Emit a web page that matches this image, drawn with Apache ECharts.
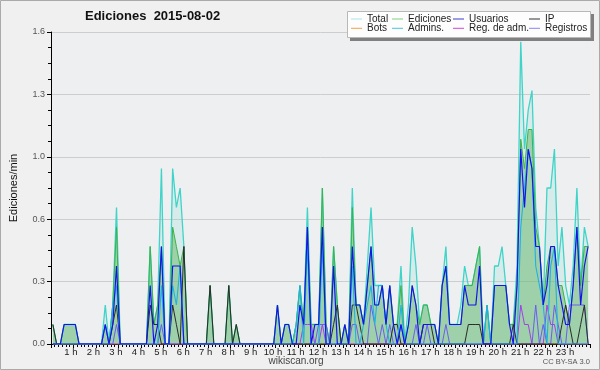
<!DOCTYPE html>
<html><head><meta charset="utf-8">
<script src="https://cdn.jsdelivr.net/npm/echarts@6/dist/echarts.min.js"></script>
<style>html,body{margin:0;padding:0;background:#f0f0f0}#c{width:600px;height:370px}</style>
</head><body><div id="c"></div>
<script>
// 10-minute bins, values in edits/min
const hourLabels = ['1 h','2 h','3 h','4 h','5 h','6 h','7 h','8 h','9 h','10 h','11 h','12 h','13 h','14 h','15 h','16 h','17 h','18 h','19 h','20 h','21 h','22 h','23 h'];
const yTicks = [0, 0.32, 0.64, 0.96, 1.28, 1.6];

const total = [
 .1,0,0,.1,.1,.1,.1,0,0,0,0,0,
 0,0,.2,0,.2,.7,0,0,0,0,0,0,
 0,0,.5,.1,.2,.9,0,0,.9,.7,.8,.5,
 0,0,0,0,0,0,.3,0,0,0,0,.3,
 0,.1,0,0,0,0,0,0,0,0,0,0,
 .2,0,.1,.1,0,.1,.3,.1,.7,.1,.1,.1,
 .8,.1,0,.5,.2,0,.1,0,.8,.2,.2,.1,
 .4,.7,.3,.3,.3,.1,.3,.1,.1,.4,0,.2,
 .6,.4,.1,.2,.2,.1,.1,0,.3,.5,.1,.1,
 .1,.2,.4,.3,.3,.4,.5,0,.2,0,.4,.4,
 .5,.3,.1,.1,.4,1.55,1.0,1.2,1.3,.7,.5,.2,
 .8,.8,1.0,.4,.6,.3,.2,.4,.8,.3,.6,.5];

const edits = [
 .1,0,0,.1,.1,.1,.1,0,0,0,0,0,
 0,0,.1,0,.2,.6,0,0,0,0,0,0,
 0,0,.5,.1,.2,.5,0,0,.6,.5,.4,.5,
 0,0,0,0,0,0,.3,0,0,0,0,.3,
 0,.1,0,0,0,0,0,0,0,0,0,0,
 .2,0,.1,.1,0,.1,.3,.1,.6,.1,.1,.1,
 .8,.1,0,.5,.2,0,.1,0,.7,.2,.2,.1,
 .3,.5,.2,.2,.3,.1,.3,.1,.1,.3,0,.1,
 .3,.2,.1,.2,.2,.1,.1,0,.3,.4,.1,.1,
 .1,.1,.3,.3,.3,.4,.5,0,.2,0,.3,.3,
 .3,.3,.1,.1,.3,1.05,.9,1.1,1.1,.6,.5,.2,
 .4,.5,.5,.3,.3,.2,.1,.3,.6,.3,.5,.5];

const users = [
 0,0,0,.1,.1,.1,.1,0,0,0,0,0,
 0,0,.1,0,.1,.4,0,0,0,0,0,0,
 0,0,.3,0,.1,.5,0,0,.4,.4,.4,0,
 0,0,0,0,0,0,0,0,0,0,0,0,
 0,0,0,0,0,0,0,0,0,0,0,0,
 .2,0,.1,.1,0,0,.2,.1,.6,0,.1,.1,
 .6,0,0,.4,0,0,.1,0,.5,.2,.2,.1,
 .3,.5,.2,.2,.3,.1,.3,.1,0,.1,0,.1,
 .3,.2,0,.1,.1,.1,.1,0,.3,.4,.1,.1,
 .1,.1,.3,.2,.2,.2,.4,0,0,0,.3,.3,
 .3,.3,.1,0,.3,1.0,.7,1.0,.9,.5,.5,.2,
 .3,.5,.5,.3,.2,.1,.1,.3,.6,.2,.4,.5];

const ip = [
 .1,0,0,0,0,0,0,0,0,0,0,0,
 0,0,0,0,.1,.2,0,0,0,0,0,0,
 0,0,.2,.1,.1,0,0,0,.2,.1,0,.5,
 0,0,0,0,0,0,.3,0,0,0,0,.3,
 0,.1,0,0,0,0,0,0,0,0,0,0,
 0,0,0,0,0,0,0,0,0,0,0,0,
 0,0,0,.1,.2,0,0,0,.2,.2,.1,0,
 0,0,0,0,0,0,0,.1,.1,0,0,0,
 0,0,0,.1,.1,.1,0,0,0,0,0,0,
 0,0,0,.1,.1,.1,.1,0,0,0,0,0,
 0,0,0,.1,0,0,0,0,0,0,0,0,
 0,0,0,0,.1,.2,.1,0,0,.1,.2,0];

const bots = [
 0,0,0,0,0,0,0,0,0,0,0,0, 0,0,0,0,0,0,0,0,0,0,0,0,
 0,0,0,0,0,0,0,0,0,0,0,0, 0,0,0,0,0,0,0,0,0,0,0,0,
 0,0,0,0,0,0,0,0,0,0,0,0, 0,0,0,0,0,0,0,0,0,0,0,0,
 0,0,0,0,0,0,0,0,0,0,0,0, 0,0,0,0,0,0,0,0,0,0,0,0,
 0,0,0,0,0,0,0,0,0,0,0,0, 0,0,0,0,0,0,0,0,0,0,0,0,
 0,0,0,0,0,0,0,0,0,0,0,0, 0,0,0,0,0,0,0,0,0,0,0,0];

const admins = [
 0,0,0,0,0,0,0,0,0,0,0,0,
 0,0,0,0,.2,.3,0,0,0,0,0,0,
 0,0,0,0,0,.3,0,0,.3,.2,.4,0,
 0,0,0,0,0,0,0,0,0,0,0,0,
 0,0,0,0,0,0,0,0,0,0,0,0,
 0,0,0,0,0,.1,.3,0,.5,0,0,0,
 .5,0,0,0,0,0,0,0,.4,0,0,.1,
 .2,.3,.1,.3,.3,.1,0,0,0,.2,0,0,
 0,0,0,0,0,0,0,0,0,0,0,0,
 0,0,0,0,0,0,0,0,.2,0,0,0,
 0,0,0,0,0,.6,.8,1.0,.9,.4,.3,.2,
 0,.4,.5,0,0,0,0,0,0,0,0,0];

const regAdm = [
 0,0,0,0,0,0,0,0,0,0,0,0, 0,0,0,0,0,0,0,0,0,0,0,0,
 0,0,0,0,0,0,0,0,0,0,0,0, 0,0,0,0,0,0,0,0,0,0,0,0,
 0,0,0,0,0,0,0,0,0,0,0,0,
 0,0,0,0,0,0,0,.1,.1,.1,0,0,
 .1,0,0,0,0,0,0,0,0,0,0,0,
 0,0,0,0,0,0,0,0,0,0,0,0, 0,0,0,0,0,0,0,0,0,0,0,0,
 0,0,0,0,0,0,0,0,0,0,0,0,
 0,0,0,0,0,.2,.1,.1,0,0,0,0,
 .2,.1,.1,0,0,0,0,0,0,0,0,0];

const logs = [
 0,0,0,0,0,0,0,0,0,0,0,0,
 0,0,.1,0,0,.1,0,0,0,0,0,0,
 0,0,0,0,0,.1,0,0,0,0,0,0,
 0,0,0,0,0,0,0,0,0,0,0,0,
 0,0,0,0,0,0,0,0,0,0,0,0,
 0,0,0,0,0,0,0,0,0,0,0,.1,
 .1,.1,0,0,0,0,0,0,.1,.1,0,0,
 0,.2,.1,0,.1,0,.1,0,0,.1,0,0,
 0,.1,0,0,.1,0,0,0,0,.1,0,0,
 0,0,0,0,0,0,0,0,0,0,0,0,
 0,0,0,0,0,0,0,0,0,.2,0,.1,
 0,0,.2,.1,0,0,.2,.2,.2,.2,.2,0];

const FONT = '"Liberation Sans", Arial, sans-serif';
const pts = arr => arr.map((v, i) => [i + 0.5, v]);

const seriesDefs = [
  {name:'Total', data: total, color:'#3ed4c8', legend:'#a6e6e4', area:'rgba(80,210,195,0.14)', w:1.3},
  {name:'Ediciones', data: edits, color:'#3cb24a', legend:'#7fd07f', area:'rgba(105,185,110,0.52)', w:1},
  {name:'Bots', data: bots, color:'#f29a30', legend:'#f3a040', w:1},
  {name:'Reg. de adm.', data: regAdm, color:'#a63ee6', legend:'#d044d8', w:1},
  {name:'Registros', data: logs, color:'#6a5ef0', legend:'#8a84ee', w:1},
  {name:'IP', data: ip, color:'#2b2b2b', legend:'#333333', w:1},
  {name:'Admins.', data: admins, color:'#1fb2e2', legend:'#44c8dc', w:1.1},
  {name:'Usuarios', data: users, color:'#1414ea', legend:'#3a3ad0', w:1.2}
];
const legColor = {};
seriesDefs.forEach(s => legColor[s.name] = s.legend);

const legCols = [['Total','Bots'],['Ediciones','Admins.'],['Usuarios','Reg. de adm.'],['IP','Registros']];
const legLeft = [351, 392, 453, 529];

const chart = echarts.init(document.getElementById('c'));
chart.setOption({
  animation: false,
  backgroundColor: '#f0f0f0',
  title: {
    text: 'Ediciones  2015-08-02', left: 85, top: 10, padding: 0,
    textStyle: {fontSize: 13, fontWeight: 'bold', color: '#111', fontFamily: FONT}
  },
  legend: legCols.map((col, k) => ({
    orient: 'vertical', left: legLeft[k], top: 14, padding: 0, itemGap: -0.7,
    itemWidth: 11, itemHeight: 1, icon: 'rect', selectedMode: false, z: 6,
    textStyle: {fontSize: 10, color: '#222', fontFamily: FONT},
    data: col.map(n => ({name: n, itemStyle: {color: legColor[n]}}))
  })),
  grid: {left: 46, right: 10, top: 32, bottom: 26, show: true, backgroundColor: '#eeeff1', borderWidth: 0},
  xAxis: {
    type: 'value', min: 0, max: 144, interval: 6,
    axisLine: {lineStyle: {color: '#000', width: 1}},
    axisTick: {show: true, length: 4, lineStyle: {color: '#000'}},
    minorTick: {show: true, splitNumber: 6, length: 3, lineStyle: {color: '#000'}},
    splitLine: {show: false},
    axisLabel: {
      formatter: v => hourLabels[v / 6 - 1] || '',
      fontSize: 9.5, color: '#222', margin: 3, padding: [0, 5, 0, 0], fontFamily: FONT
    }
  },
  yAxis: {
    type: 'value', min: yTicks[0], max: yTicks[yTicks.length - 1], interval: yTicks[1],
    name: 'Ediciones/min', nameLocation: 'middle', nameGap: 32,
    nameTextStyle: {fontSize: 11, color: '#111', fontFamily: FONT},
    axisLine: {show: true, lineStyle: {color: '#000', width: 1}},
    axisTick: {show: true, length: 4, lineStyle: {color: '#000'}},
    minorTick: {show: true, splitNumber: 4, length: 3, lineStyle: {color: '#000'}},
    splitLine: {show: true, lineStyle: {color: '#cdcdcd', width: 1}},
    axisLabel: {formatter: v => v.toFixed(1), fontSize: 9, color: '#555', margin: 6, fontFamily: FONT}
  },
  series: seriesDefs.map(s => ({
    name: s.name, type: 'line', data: pts(s.data), symbol: 'none', z: 2,
    itemStyle: {color: s.color},
    lineStyle: {color: s.color, width: s.w},
    areaStyle: s.area ? {color: s.area, opacity: 1} : undefined
  })),
  graphic: [
    {type: 'rect', z: 5, shape: {x: 350, y: 14, width: 244, height: 27}, style: {fill: '#808080'}},
    {type: 'rect', z: 5, shape: {x: 347.5, y: 11.5, width: 243, height: 26}, style: {fill: '#fdfdfd', stroke: '#b8b8b8', lineWidth: 1}},
    {type: 'text', z: 5, style: {text: 'wikiscan.org', x: 296, y: 361, textAlign: 'center', textVerticalAlign: 'middle', font: '10px ' + FONT, fill: '#444'}},
    {type: 'text', z: 5, style: {text: 'CC BY-SA 3.0', x: 590, y: 362, textAlign: 'right', textVerticalAlign: 'middle', font: '7.5px ' + FONT, fill: '#555'}},
    {type: 'rect', z: 5, shape: {x: 0.5, y: 0.5, width: 599, height: 369}, style: {fill: 'none', stroke: '#aaaaaa', lineWidth: 1}}
  ]
});
</script></body></html>
